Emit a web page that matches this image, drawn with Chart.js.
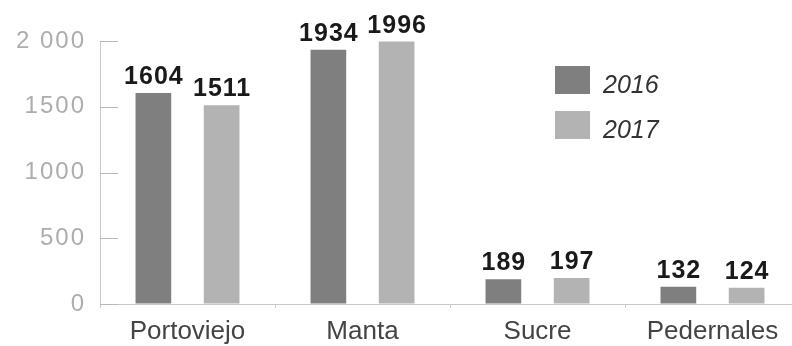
<!DOCTYPE html>
<html>
<head>
<meta charset="utf-8">
<script src="https://cdn.jsdelivr.net/npm/chart.js@4/dist/chart.umd.min.js"></script>
<style>
  html, body { margin: 0; padding: 0; background: #ffffff; overflow: hidden; }
  #wrap { width: 800px; height: 346px; }
</style>
</head>
<body>
<div id="wrap"><canvas id="c" width="800" height="346"></canvas></div>
<script>
// ---- data ----
const categories = ["Portoviejo", "Manta", "Sucre", "Pedernales"];
const seriesLabels = ["2016", "2017"];
const values2016 = [1604, 1934, 189, 132];
const values2017 = [1511, 1996, 197, 124];
const yTickValues = [0, 500, 1000, 1500, 2000];
const yTickLabels = ["0", "500", "1000", "1500", "2 000"];

// ---- styles ----
const colors = ["#7f7f7f", "#b3b3b3"];
const FONT = "'Liberation Sans', Arial, Helvetica, sans-serif";
Chart.defaults.font.family = FONT;

const innerTicks = {
  id: "innerTicks",
  afterDraw(chart) {
    const ctx = chart.ctx, y = chart.scales.y, a = chart.chartArea;
    ctx.save();
    ctx.strokeStyle = "#b8b8b8";
    ctx.lineWidth = 1;
    y.ticks.forEach(t => {
      const py = Math.round(y.getPixelForValue(t.value)) + 0.5;
      ctx.beginPath();
      ctx.moveTo(a.left, py);
      ctx.lineTo(a.left + 18, py);
      ctx.stroke();
    });
    ctx.restore();
  }
};

const spacedYLabels = {
  id: "spacedYLabels",
  beforeDraw(chart) {
    const s = chart.scales.y;
    if (s && !s.__patched) {
      const orig = s.drawLabels;
      s.drawLabels = function (area) {
        const ctx = this.ctx;
        ctx.save();
        ctx.letterSpacing = "2px";
        orig.call(this, area);
        ctx.restore();
      };
      s.__patched = true;
    }
  }
};

const valueLabels = {
  id: "valueLabels",
  afterDatasetsDraw(chart) {
    const ctx = chart.ctx;
    ctx.save();
    ctx.font = "bold 25px " + FONT;
    ctx.letterSpacing = "1px";
    ctx.fillStyle = "#1a1a1a";
    ctx.textAlign = "center";
    ctx.textBaseline = "alphabetic";
    chart.data.datasets.forEach((ds, di) => {
      const meta = chart.getDatasetMeta(di);
      meta.data.forEach((el, i) => {
        ctx.fillText(String(ds.data[i]), el.x + 0.5, el.y - 9);
      });
    });
    ctx.restore();
  }
};

const boxLegend = {
  id: "boxLegend",
  afterDraw(chart) {
    const ctx = chart.ctx;
    ctx.save();
    ctx.font = "italic 25px " + FONT;
    ctx.textAlign = "left";
    ctx.textBaseline = "alphabetic";
    chart.data.datasets.forEach((ds, i) => {
      const top = 66 + i * 45;
      ctx.fillStyle = ds.backgroundColor;
      ctx.fillRect(555, top, 35, 28);
      ctx.fillStyle = "#333333";
      ctx.fillText(ds.label, 603, top + 27);
    });
    ctx.restore();
  }
};

new Chart(document.getElementById("c"), {
  type: "bar",
  data: {
    labels: categories,
    datasets: [
      { label: seriesLabels[0], data: values2016, backgroundColor: colors[0],
        barPercentage: 0.523, categoryPercentage: 0.78 },
      { label: seriesLabels[1], data: values2017, backgroundColor: colors[1],
        barPercentage: 0.523, categoryPercentage: 0.78 }
    ]
  },
  options: {
    responsive: false,
    devicePixelRatio: 1,
    animation: false,
    layout: { padding: { top: 41, left: 0, right: 0, bottom: 0 } },
    plugins: { legend: { display: false }, tooltip: { enabled: false } },
    scales: {
      x: {
        offset: true,
        grid: { drawOnChartArea: false, drawTicks: true, tickLength: 4, color: "#cccccc", offset: true },
        border: { color: "#c8c8c8", width: 1 },
        ticks: { color: "#444444", font: { size: 26 }, padding: 8, maxRotation: 0, autoSkip: false },
        afterFit: s => { s.height = 42; }
      },
      y: {
        min: 0, max: 2000,
        grid: { drawOnChartArea: false, drawTicks: false },
        border: { color: "#c8c8c8", width: 1 },
        ticks: {
          stepSize: 500, color: "#adadad", font: { size: 24 }, padding: 14,
          callback: v => { const k = yTickValues.indexOf(v); return k >= 0 ? yTickLabels[k] : ""; }
        },
        afterFit: s => { s.width = 100; }
      }
    }
  },
  plugins: [innerTicks, spacedYLabels, valueLabels, boxLegend]
});
</script>
</body>
</html>
